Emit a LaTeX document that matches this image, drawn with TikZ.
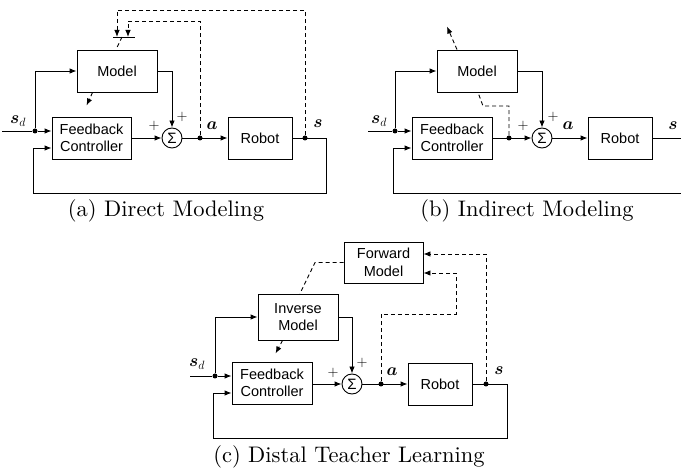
\documentclass[tikz,border=0pt]{standalone}
\usepackage{fontspec}
\usepackage{amsmath}
\usepackage{tikz}
\usetikzlibrary{arrows.meta}
\newfontfamily\boxfont{Liberation Sans}
\newfontfamily\capfont[Extension=.otf]{lmroman10-regular}

\begin{document}
\begin{tikzpicture}[x=1pt, y=-1pt, line width=0.9pt,
    block/.style={draw, minimum width=80pt, minimum height=42pt, align=center, inner sep=1pt, font=\boxfont\fontsize{14.5}{17.5}\selectfont},
    sumnode/.style={draw, circle, minimum size=20pt, inner sep=0pt, font=\boxfont\fontsize{15}{16}\selectfont},
    junc/.style={circle, fill, minimum size=5pt, inner sep=0pt},
    arr/.style={draw, -{Latex[length=7pt,width=5.5pt]}},
    dashln/.style={draw, dash pattern=on 4pt off 3pt},
    lbl/.style={font=\fontsize{18.5}{20}\selectfont},
    sgn/.style={font=\fontsize{15}{16}\selectfont},
    captxt/.style={font=\capfont\fontsize{22.5}{26}\selectfont}]
    \useasboundingbox (0,0) rectangle (681,470);

    \node[block] (amodel) at (117,71) {Model};
    \node[block, minimum width=79pt] (afb) at (91.5,138) {Feedback\\Controller};
    \node[sumnode] (asum) at (172,138) {Σ};
    \node[block, minimum width=64pt] (arobot) at (260,138) {Robot};
    \coordinate (ain) at (2,131);
    \node[junc] (asd) at (35,131) {};
    \node[junc] (aa) at (200,138) {};
    \node[junc] (as) at (305,138) {};
    \coordinate (aloopr) at (326,193);
    \coordinate (aloopl) at (33,193);
    \coordinate (abarl) at (113,37);
    \coordinate (abarr) at (135,37);
    \coordinate (atgta) at (128,37);
    \coordinate (atgts) at (117,37);

    \draw (ain) -- (asd);
    \draw[arr] (asd) -- (asd -| afb.west);
    \draw[arr] (asd) |- (amodel.west);
    \draw[arr] (amodel.east) -| (asum.north);
    \draw[arr] (afb.east) -- (asum.west);
    \draw[arr] (asum.east) -- (arobot.west);
    \draw (arobot.east) -| (aloopr) -- (aloopl);
    \draw[arr] (aloopl) |- ([yshift=-10pt]afb.west);

    \draw (abarl) -- (abarr);
    \draw[dashln, arr] (aa) |- ([yshift=16pt]atgta) -- (atgta);
    \draw[dashln, arr] (as) |- ([yshift=27pt]atgts) -- (atgts);
    \draw[dashln] ([xshift=5pt]atgts) -- ([xshift=-1pt]amodel.north);
    \draw[dashln, arr] ([xshift=16pt]amodel.south west) -- ++(-6,13);

    \node[lbl] (asdl) at (18,121) {$\boldsymbol{s}_d$};
    \node[lbl] (aal) at (212,126) {$\boldsymbol{a}$};
    \node[lbl] (asl) at (318,124) {$\boldsymbol{s}$};
    \node[sgn] (ap1) at (154,126) {$+$};
    \node[sgn] (ap2) at (182,117) {$+$};
    \node[captxt] (acap) at (166,211) {(a) Direct Modeling};

    \node[block] (bmodel) at (477,71) {Model};
    \node[block] (bfb) at (452,138) {Feedback\\Controller};
    \node[sumnode] (bsum) at (542,138) {Σ};
    \node[block, minimum width=64pt] (brobot) at (620,138) {Robot};
    \coordinate (bin) at (368,131);
    \node[junc] (bsd) at (395,131) {};
    \node[junc] (bu) at (509,138) {};
    \coordinate (bout) at (685,138);
    \coordinate (bloopr) at (685,193);
    \coordinate (bloopl) at (393,193);
    \coordinate (bbend) at (483,106);

    \draw (bin) -- (bsd);
    \draw[arr] (bsd) -- (bsd -| bfb.west);
    \draw[arr] (bsd) |- (bmodel.west);
    \draw[arr] (bmodel.east) -| (bsum.north);
    \draw[arr] (bfb.east) -- (bsum.west);
    \draw[arr] (bsum.east) -- (brobot.west);
    \draw (brobot.east) -- (bout);
    \draw[arr] (bloopr) -- (bloopl) |- ([yshift=-10pt]bfb.west);

    \draw[dashln] (bu) |- (bbend) -- ([xshift=1pt]bmodel.south);
    \draw[dashln, arr] ([xshift=-20pt]bmodel.north) -- ++(-10,-23);

    \node[lbl] (bsdl) at (379,121) {$\boldsymbol{s}_d$};
    \node[lbl] (bal) at (568,126) {$\boldsymbol{a}$};
    \node[lbl] (bsl) at (673,126) {$\boldsymbol{s}$};
    \node[sgn] (bp1) at (523,126) {$+$};
    \node[sgn] (bp2) at (553,117) {$+$};
    \node[captxt] (bcap) at (527,211) {(b) Indirect Modeling};

    \node[block, minimum width=79pt, minimum height=41pt] (cfwd) at (383.5,262.5) {Forward\\Model};
    \node[block, minimum height=46pt] (cinv) at (298,317) {Inverse\\Model};
    \node[block] (cfb) at (272,383) {Feedback\\Controller};
    \node[sumnode] (csum) at (352,384) {Σ};
    \node[block, minimum width=64pt] (crobot) at (440,384) {Robot};
    \coordinate (cin) at (190,376);
    \node[junc] (csd) at (215,376) {};
    \node[junc] (ca) at (381,384) {};
    \node[junc] (cs) at (486,384) {};
    \coordinate (cloopr) at (507,438);
    \coordinate (cloopl) at (213,438);
    \coordinate (cbend) at (456,314);
    \coordinate (cknee) at (315,262.5);

    \draw (cin) -- (csd);
    \draw[arr] (csd) -- (csd -| cfb.west);
    \draw[arr] (csd) |- (cinv.west);
    \draw[arr] (cinv.east) -| (csum.north);
    \draw[arr] (cfb.east |- csum) -- (csum.west);
    \draw[arr] (csum.east) -- (crobot.west);
    \draw (crobot.east) -| (cloopr) -- (cloopl);
    \draw[arr] (cloopl) |- ([yshift=-10pt]cfb.west);

    \draw[dashln, arr] (ca) |- (cbend) |- ([yshift=-10.5pt]cfwd.east);
    \draw[dashln, arr] (cs) |- ([yshift=8.5pt]cfwd.east);
    \draw[dashln] (cfwd.west) -- (cknee) -- ([xshift=2pt]cinv.north);
    \draw[dashln, arr] ([xshift=25pt]cinv.south west) -- ++(-7,13);

    \node[lbl] (csdl) at (197,364) {$\boldsymbol{s}_d$};
    \node[lbl] (cal) at (392,372) {$\boldsymbol{a}$};
    \node[lbl] (csl) at (499,371) {$\boldsymbol{s}$};
    \node[sgn] (cp1) at (333,373) {$+$};
    \node[sgn] (cp2) at (362,363) {$+$};
    \node[captxt] (ccap) at (349,457) {(c) Distal Teacher Learning};
  \end{tikzpicture}
\end{document}
